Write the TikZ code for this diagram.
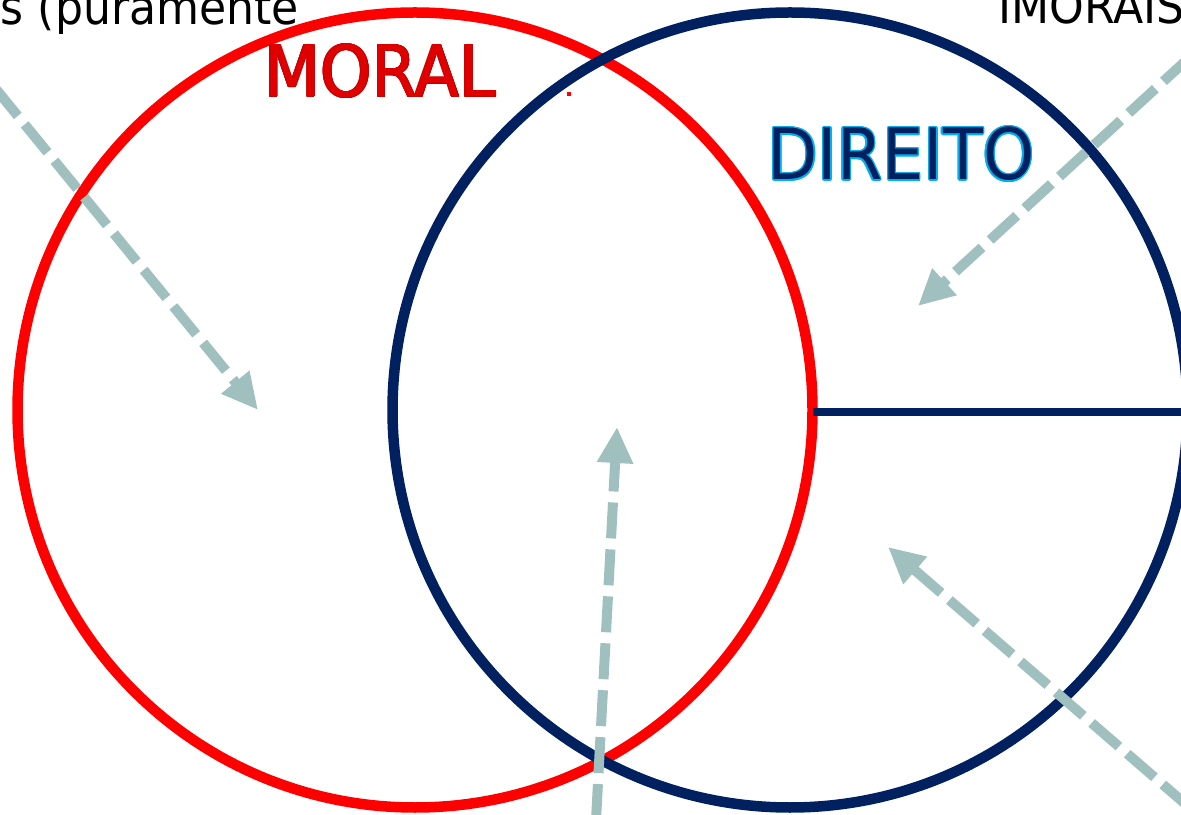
\documentclass[tikz,border=0pt]{standalone}
\usepackage{fontspec}
\setmainfont{DejaVu Sans}[FakeStretch=0.92]
\usepackage[copies]{contour}
\usepackage{tikz}
\usetikzlibrary{arrows.meta}

\definecolor{moralred}{RGB}{255,0,0}
\definecolor{moraltext}{RGB}{225,0,0}
\definecolor{moraledge}{RGB}{200,0,0}
\definecolor{direitoblue}{RGB}{0,32,96}
\definecolor{direitoedge}{RGB}{0,176,240}
\definecolor{setagrey}{RGB}{160,192,191}

\begin{document}
\begin{tikzpicture}[
		ring/.style={line width=0.21cm},
		seta/.style={setagrey, line width=0.2cm, dash pattern=on 0.72cm off 0.22cm,
			-{Triangle[length=0.72cm, width=0.68cm]}},
		rotulo/.style={inner sep=0pt, anchor=base}
	]
		%%%%% START %%%%%
		\useasboundingbox (0, 0) rectangle (23.62, 16.28);
		
		\coordinate (moralC) at (8.30, 8.08);
		\coordinate (direitoC) at (15.80, 8.08);
		
		% the two sets
		\draw[ring, moralred] (moralC) circle (7.95);
		\draw[ring, direitoblue] (direitoC) circle (7.95);
		\draw[direitoblue, line width=0.16cm] (16.26, 8.04) -- (23.8, 8.04);
		
		% labels
		\node[rotulo] (moral) at (7.60, 14.34) {\fontsize{40.4}{48}\selectfont\contourlength{0.45pt}\contour{moraledge}{\textcolor{moraltext}{MORAL}}};
		\node[rotulo] (direito) at (18.02, 12.68) {\fontsize{40.4}{48}\selectfont\contourlength{0.8pt}\contour{direitoedge}{\textcolor{direitoblue}{DIREITO}}};
		\fill[moralred] (11.34, 14.36) rectangle (11.41, 14.43);
		
		\node[rotulo, anchor=base west] (pura) at (0.01, 15.78) {\fontsize{27.3}{32}\selectfont s (puramente};
		\node[rotulo, anchor=base west] (imorais) at (19.96, 15.80) {\fontsize{27.3}{32}\selectfont IMORAIS};
		
		% arrows into the regions
		\coordinate (a1) at (-0.10, 14.52);
		\coordinate (b1) at (5.16, 8.08);
		\coordinate (a2) at (23.80, 15.14);
		\coordinate (b2) at (18.36, 10.16);
		\coordinate (a3) at (11.92, -0.12);
		\coordinate (b3) at (12.34, 7.74);
		\coordinate (a4) at (23.80, 0.12);
		\coordinate (b4) at (17.76, 5.34);
		
		\draw[seta] (a1) -- (b1);
		\draw[seta] (a2) -- (b2);
		\draw[seta] (a3) -- (b3);
		\draw[seta] (a4) -- (b4);
		%%%%% END %%%%%
	\end{tikzpicture}
\end{document}
